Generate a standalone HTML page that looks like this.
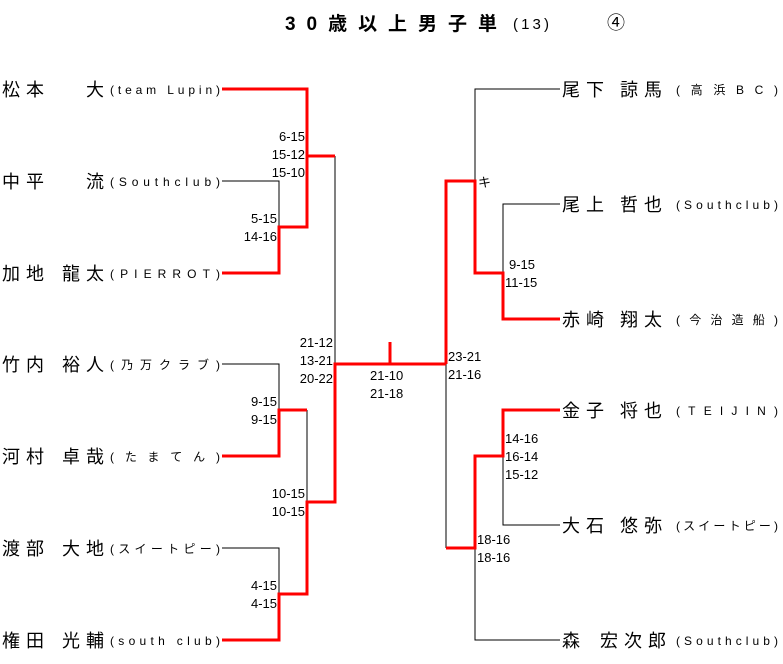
<!DOCTYPE html>
<html><head><meta charset="utf-8"><style>
body{margin:0;background:#fff;}
svg{display:block;font-family:"Liberation Sans","Noto Sans CJK JP",sans-serif;}
.n{font-size:18px;fill:#000;letter-spacing:6px;}
.c{font-size:12px;fill:#000;}
.s{font-size:13px;fill:#000;}
</style></head><body>
<svg width="783" height="664" viewBox="0 0 783 664">
<text x="285" y="30" font-size="19" font-weight="bold" textLength="212" lengthAdjust="spacing">30歳以上男子単</text>
<text x="513" y="29" font-size="15" textLength="36" lengthAdjust="spacing">(13)</text>
<text x="607" y="29" font-size="18">④</text>

<g class="n">
<text x="2" y="96">松本</text><text x="86" y="96">大</text>
<text x="2" y="188">中平</text><text x="86" y="188">流</text>
<text x="2" y="280">加地</text><text x="62" y="280">龍太</text>
<text x="2" y="371">竹内</text><text x="62" y="371">裕人</text>
<text x="2" y="463">河村</text><text x="62" y="463">卓哉</text>
<text x="2" y="555">渡部</text><text x="62" y="555">大地</text>
<text x="2" y="647">権田</text><text x="62" y="647">光輔</text>
<text x="562" y="96">尾下</text><text x="620" y="96">諒馬</text>
<text x="562" y="211">尾上</text><text x="620" y="211">哲也</text>
<text x="562" y="326">赤崎</text><text x="620" y="326">翔太</text>
<text x="562" y="417">金子</text><text x="620" y="417">将也</text>
<text x="562" y="532">大石</text><text x="620" y="532">悠弥</text>
<text x="562" y="647">森</text><text x="600" y="647">宏次郎</text>
</g>
<g class="c" lengthAdjust="spacing">
<text x="110" y="94" textLength="110" lengthAdjust="spacing">(team Lupin)</text>
<text x="110" y="186" textLength="110" lengthAdjust="spacing">(Southclub)</text>
<text x="110" y="278" textLength="110" lengthAdjust="spacing">(PIERROT)</text>
<text x="110" y="369" textLength="110" lengthAdjust="spacing">(乃万クラブ)</text>
<text x="110" y="461" textLength="110" lengthAdjust="spacing">(たまてん)</text>
<text x="110" y="553" textLength="110" lengthAdjust="spacing">(スイートピー)</text>
<text x="110" y="645" textLength="110" lengthAdjust="spacing">(south club)</text>
<text x="676" y="94" textLength="102" lengthAdjust="spacing">(高浜BC)</text>
<text x="676" y="209" textLength="102" lengthAdjust="spacing">(Southclub)</text>
<text x="676" y="324" textLength="102" lengthAdjust="spacing">(今治造船)</text>
<text x="676" y="415" textLength="102" lengthAdjust="spacing">(TEIJIN)</text>
<text x="676" y="530" textLength="102" lengthAdjust="spacing">(スイートピー)</text>
<text x="676" y="645" textLength="102" lengthAdjust="spacing">(Southclub)</text>
</g>
<g class="s">
<text x="305" y="141" text-anchor="end">6-15</text>
<text x="305" y="159" text-anchor="end">15-12</text>
<text x="305" y="177" text-anchor="end">15-10</text>
<text x="277" y="223" text-anchor="end">5-15</text>
<text x="277" y="241" text-anchor="end">14-16</text>
<text x="333" y="347" text-anchor="end">21-12</text>
<text x="333" y="365" text-anchor="end">13-21</text>
<text x="333" y="383" text-anchor="end">20-22</text>
<text x="277" y="406" text-anchor="end">9-15</text>
<text x="277" y="424" text-anchor="end">9-15</text>
<text x="305" y="498" text-anchor="end">10-15</text>
<text x="305" y="516" text-anchor="end">10-15</text>
<text x="277" y="590" text-anchor="end">4-15</text>
<text x="277" y="608" text-anchor="end">4-15</text>
<text x="370" y="380">21-10</text>
<text x="370" y="398">21-18</text>
<text x="448" y="361">23-21</text>
<text x="448" y="379">21-16</text>
<text x="478" y="187">キ</text>
<text x="509" y="269">9-15</text>
<text x="505" y="287">11-15</text>
<text x="505" y="443">14-16</text>
<text x="505" y="461">16-14</text>
<text x="505" y="479">15-12</text>
<text x="477" y="544">18-16</text>
<text x="477" y="562">18-16</text>
</g>

<g fill="none" stroke="#000" stroke-width="1">
<path d="M222 181H279V227"/>
<path d="M335 156V364"/>
<path d="M222 364H279V410"/>
<path d="M307 410V502"/>
<path d="M222 548H279V594"/>
<path d="M335 364H446"/>
<path d="M560 89H475V181"/>
<path d="M560 204H503V273"/>
<path d="M446 364V548"/>
<path d="M560 525H503V456"/>
<path d="M560 640H475V548"/>
</g>
<g fill="none" stroke="#f00" stroke-width="3">
<path d="M222 89H307V156H335"/>
<path d="M222 273H279V227H307V156"/>
<path d="M222 456H279V410H307"/>
<path d="M222 640H279V594H307V502H335V364H446"/>
<path d="M390 342V364"/>
<path d="M446 364V181H475V273H503V319H560"/>
<path d="M446 548H475V456H503V410H560"/>
</g>
</svg>
</body></html>
